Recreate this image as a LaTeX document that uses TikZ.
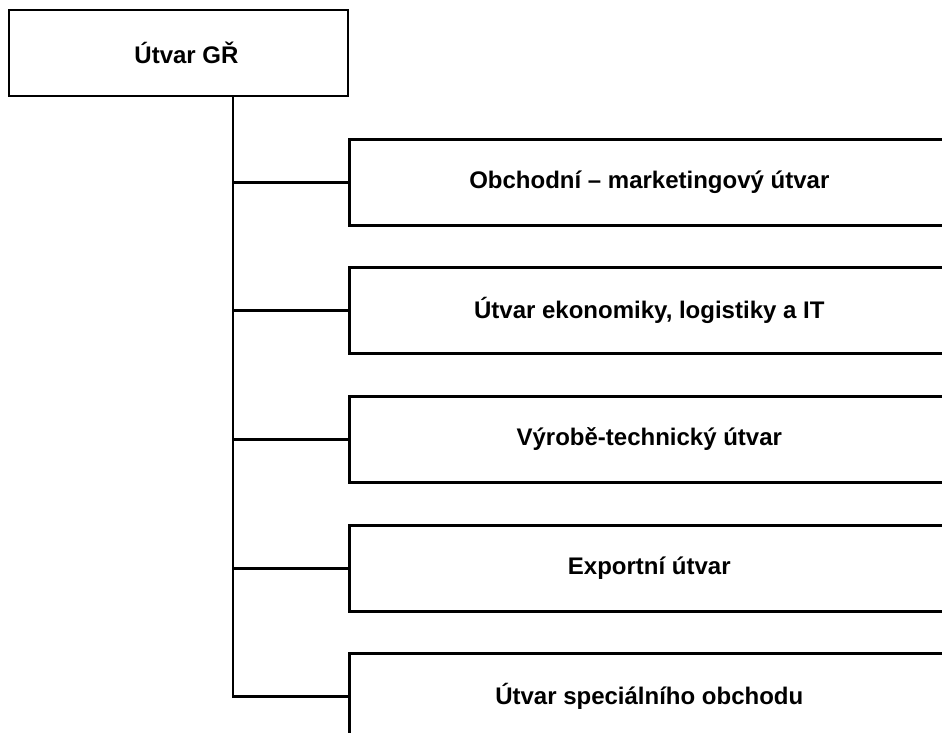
\documentclass[tikz,border=0pt]{standalone}
\usepackage{fontspec}
\setmainfont{Liberation Sans}
\usepackage{tikz}

\tikzset{
	unitbox/.style={shape=rectangle,draw=black,line width=2.6pt,minimum height=86pt,inner sep=0pt,font=\fontsize{24}{28}\selectfont\bfseries},
	unitlabel/.style={font=\fontsize{24}{28}\selectfont\bfseries}
}

\begin{document}
\begin{tikzpicture}[x=1pt,y=-1pt]
	
	\useasboundingbox (0,0) rectangle (942,733);
	\clip (0,0) rectangle (942,733);
	
	\node[unitbox,minimum width=339pt] (gr) at (178.5,53) {};
	\node[unitlabel] (grl) at (186.5,53) {Útvar GŘ};
	\coordinate (spine) at (233,96);
	
	\node[unitbox,minimum width=600pt,anchor=north west] (b1) at (348,138) {Obchodní – marketingový útvar};
	\node[unitbox,minimum width=600pt,anchor=north west] (b2) at (348,266) {Útvar ekonomiky, logistiky a IT};
	\node[unitbox,minimum width=600pt,anchor=north west] (b3) at (348,395) {Výrobě-technický útvar};
	\node[unitbox,minimum width=600pt,anchor=north west] (b4) at (348,524) {Exportní útvar};
	\node[unitbox,minimum width=600pt,anchor=north west] (b5) at (348,652) {Útvar speciálního obchodu};
	
	\draw[line width=2.6pt] (gr.south -| spine) |- (b5.west);
	\foreach \b in {b1,b2,b3,b4}
		\draw[line width=2.6pt] (spine |- \b.west) -- (\b.west);
	
\end{tikzpicture}
\end{document}
